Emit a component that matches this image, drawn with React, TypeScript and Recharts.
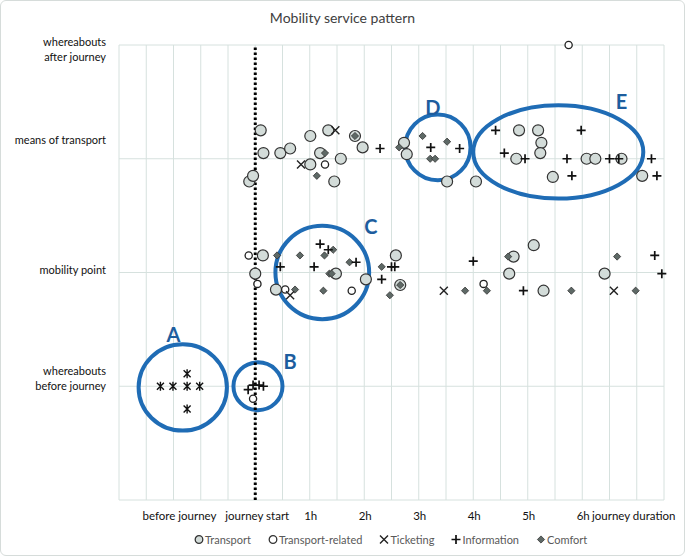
import React from "react";
import {
  CartesianGrid,
  ReferenceArea,
  ReferenceDot,
  ReferenceLine,
  Scatter,
  ScatterChart,
  XAxis,
  YAxis,
} from "recharts";

// x = hours relative to journey start, y = journey stage (1 before … 4 after)
const transport = [
  [0.1, 3.25], [0.15, 3.05], [0.46, 3.05], [0.64, 3.09], [1.01, 3.2], [1.34, 3.25],
  [1.83, 3.2], [1.97, 3.1], [2.73, 3.14], [2.78, 3.04], [1.19, 3.05], [1.01, 2.95],
  [1.57, 3.0], [1.45, 2.8], [-0.11, 2.8], [-0.04, 2.85], [3.52, 2.8], [4.05, 2.8],
  [4.84, 3.25], [5.19, 3.25], [5.25, 3.14], [5.23, 3.05], [4.79, 3.0], [5.46, 2.84],
  [6.08, 3.0], [6.24, 3.0], [6.72, 3.0], [7.1, 2.85],
  [0.14, 2.15], [0.0, 1.99], [0.38, 1.85], [1.48, 1.99], [2.03, 1.94], [2.58, 2.15],
  [2.66, 1.89], [4.74, 2.14], [4.66, 1.99], [5.11, 2.24], [5.29, 1.84], [6.41, 1.99],
];
const transportRelated = [
  [1.28, 2.95], [-0.12, 2.15], [0.04, 1.9], [0.55, 1.85], [1.77, 1.84], [4.19, 1.9],
  [-0.04, 0.89], [5.75, 4.0],
];
const ticketing = [
  [1.47, 3.25], [0.84, 2.95], [0.64, 1.8], [3.46, 1.84], [6.58, 1.84],
];
const information = [
  [2.29, 3.09], [3.22, 3.1], [3.75, 3.09], [4.41, 3.25], [4.57, 3.05], [4.95, 3.0],
  [5.72, 3.0], [5.81, 2.85], [5.98, 3.25], [6.5, 3.0], [6.67, 3.0], [7.27, 3.0], [7.37, 2.85],
  [0.46, 2.05], [1.08, 2.05], [1.19, 2.25], [1.34, 2.2], [1.85, 2.09], [2.32, 1.94],
  [2.5, 2.05], [2.56, 2.05], [4.0, 2.1], [4.92, 1.84], [7.33, 2.15], [7.46, 1.99],
  [-0.13, 0.97], [-0.04, 1.01], [0.07, 1.01], [0.15, 1.0],
];
const comfort = [
  [1.83, 3.2], [1.28, 3.05], [1.13, 2.85], [2.64, 3.1], [3.07, 3.2], [3.52, 3.15],
  [3.21, 3.0], [3.3, 3.0],
  [0.4, 2.15], [0.73, 1.85], [0.82, 2.15], [1.27, 2.15], [1.43, 2.2], [1.36, 1.99],
  [1.4, 1.99], [1.25, 1.84], [1.73, 2.09], [2.32, 2.05], [2.66, 1.89], [2.47, 1.8],
  [3.85, 1.84], [4.25, 1.84], [4.64, 2.14], [5.8, 1.84], [6.64, 2.14], [6.98, 1.84],
];
const beforeJourney = [
  [-1.74, 1.0], [-1.51, 1.0], [-1.25, 1.0], [-1.02, 1.0], [-1.25, 1.11], [-1.25, 0.8],
];

// highlighted groups: centre, half-extent (data units), letter position
const groups = [
  { name: "A", cx: -1.33, cy: 0.99, rx: 0.81, ry: 0.38, lx: -1.5, ly: 1.45 },
  { name: "B", cx: 0.05, cy: 1.0, rx: 0.45, ry: 0.21, lx: 0.64, ly: 1.21 },
  { name: "C", cx: 1.23, cy: 2.0, rx: 0.86, ry: 0.41, lx: 2.12, ly: 2.4 },
  { name: "D", cx: 3.35, cy: 3.1, rx: 0.6, ry: 0.29, lx: 3.26, ly: 3.45 },
  { name: "E", cx: 5.56, cy: 3.06, rx: 1.56, ry: 0.41, lx: 6.72, ly: 3.5 },
];

const gridTicks = [
  -2.5, -2, -1.5, -1, -0.5, 0, 0.5, 1, 1.5, 2, 2.5, 3, 3.5, 4, 4.5, 5, 5.5, 6, 6.5, 7, 7.5,
];
const timeLabels: [number, string][] = [
  [-1.5, "before journey"], [0, "journey start"], [1, "1h"], [2, "2h"], [3, "3h"],
  [4, "4h"], [5, "5h"], [6, "6h"], [7, "journey duration"],
];
const stageTicks = [0, 1, 2, 3, 4];
const stageLabels: [number, string[]][] = [
  [1, ["whereabouts", "before journey"]],
  [2, ["mobility point"]],
  [3, ["means of transport"]],
  [4, ["whereabouts", "after journey"]],
];

const toPoints = (arr: number[][]) => arr.map(([x, y]) => ({ x, y }));
const FONT = "Lato, 'Open Sans', sans-serif";
const BLUE = "#1f6cb5";

const TransportDot = ({ cx, cy }: any) => (
  <circle cx={cx} cy={cy} r={5.5} fill="#d3dcd9" stroke="#333" strokeWidth={1.2} />
);
const RelatedDot = ({ cx, cy }: any) => (
  <circle cx={cx} cy={cy} r={3.6} fill="#fff" stroke="#222" strokeWidth={1.3} />
);
const TicketDot = ({ cx, cy }: any) => (
  <path d={`M${cx - 4},${cy - 4}L${cx + 4},${cy + 4}M${cx - 4},${cy + 4}L${cx + 4},${cy - 4}`} stroke="#222" strokeWidth={1.4} />
);
const InfoDot = ({ cx, cy }: any) => (
  <path d={`M${cx - 4.5},${cy}L${cx + 4.5},${cy}M${cx},${cy - 4.5}L${cx},${cy + 4.5}`} stroke="#111" strokeWidth={1.7} />
);
const ComfortDot = ({ cx, cy }: any) => (
  <path d={`M${cx},${cy - 3.6}L${cx + 3.6},${cy}L${cx},${cy + 3.6}L${cx - 3.6},${cy}Z`} fill="#5e6966" stroke="#333" strokeWidth={0.8} />
);
const StarDot = ({ cx, cy }: any) => (
  <path
    d={`M${cx - 3.5},${cy - 3.5}L${cx + 3.5},${cy + 3.5}M${cx - 3.5},${cy + 3.5}L${cx + 3.5},${cy - 3.5}M${cx},${cy - 4.5}L${cx},${cy + 4.5}`}
    stroke="#111"
    strokeWidth={1.4}
  />
);

const TimeTick = ({ x, y, payload }: any) => {
  const hit = timeLabels.find(([v]) => v === payload.value);
  if (!hit) return null;
  const shift = hit[0] === -1.5 ? 6 : hit[0] === 7 ? -3 : hit[0] === 0 ? 2 : 1;
  return (
    <text x={x + shift} y={y + 18} textAnchor="middle" fontSize={11.5} fill="#111" fontFamily={FONT}>
      {hit[1]}
    </text>
  );
};

const StageTick = ({ x, y, payload }: any) => {
  const hit = stageLabels.find(([v]) => v === payload.value);
  if (!hit) return null;
  const lines = hit[1];
  const start = hit[0] === 4 ? -3 : hit[0] === 3 ? -19 : hit[0] === 2 ? -3 : -15;
  return (
    <text textAnchor="end" fontSize={11} fill="#111" fontFamily={FONT}>
      {lines.map((l, i) => (
        <tspan key={l} x={x - 11} y={y + start + i * 14.5 + 4}>
          {l}
        </tspan>
      ))}
    </text>
  );
};

const legendItems = [
  { name: "Transport", Icon: TransportDot },
  { name: "Transport-related", Icon: RelatedDot },
  { name: "Ticketing", Icon: TicketDot },
  { name: "Information", Icon: InfoDot },
  { name: "Comfort", Icon: ComfortDot },
];

export default function App() {
  return (
    <div
      style={{
        position: "absolute",
        left: 0,
        top: 0,
        width: 683,
        height: 554,
        border: "1px solid #d6dcda",
        borderRadius: 6,
        background: "#fff",
        fontFamily: FONT,
      }}
    >
      <div
        style={{
          position: "absolute",
          top: 8,
          width: "100%",
          textAlign: "center",
          fontSize: 14,
          color: "#404040",
        }}
      >
        Mobility service pattern
      </div>
      <div style={{ position: "absolute", left: -1, top: -1 }}>
        <ScatterChart width={685} height={556} margin={{ top: 45, right: 21, bottom: 0, left: 0 }}>
          <CartesianGrid stroke="#d6e1de" strokeWidth={1} />
          <XAxis
            type="number"
            dataKey="x"
            domain={[-2.5, 7.5]}
            ticks={gridTicks}
            interval={0}
            height={56}
            axisLine={false}
            tickLine={false}
            tickSize={0}
            tick={<TimeTick />}
          />
          <YAxis
            type="number"
            dataKey="y"
            domain={[0, 4]}
            ticks={stageTicks}
            interval={0}
            width={119}
            axisLine={false}
            tickLine={false}
            tickSize={0}
            tick={<StageTick />}
          />
          <ReferenceLine x={0} stroke="#000" strokeWidth={3} strokeDasharray="2.5 2.5" />
          <Scatter name="Transport" data={toPoints(transport)} shape={TransportDot} isAnimationActive={false} />
          <Scatter name="Transport-related" data={toPoints(transportRelated)} shape={RelatedDot} isAnimationActive={false} />
          <Scatter name="Comfort" data={toPoints(comfort)} shape={ComfortDot} isAnimationActive={false} />
          <Scatter name="Ticketing" data={toPoints(ticketing)} shape={TicketDot} isAnimationActive={false} />
          <Scatter name="Information" data={toPoints(information)} shape={InfoDot} isAnimationActive={false} />
          <Scatter name="Before journey" data={toPoints(beforeJourney)} shape={StarDot} isAnimationActive={false} legendType="none" />
          {groups.map((g) => (
            <ReferenceArea
              key={g.name}
              x1={g.cx - g.rx}
              x2={g.cx + g.rx}
              y1={g.cy - g.ry}
              y2={g.cy + g.ry}
              ifOverflow="visible"
              shape={(p: any) => (
                <ellipse
                  cx={p.x + p.width / 2}
                  cy={p.y + p.height / 2}
                  rx={Math.abs(p.width) / 2}
                  ry={Math.abs(p.height) / 2}
                  fill="none"
                  stroke={BLUE}
                  strokeWidth={4}
                />
              )}
            />
          ))}
          {groups.map((g) => (
            <ReferenceDot
              key={"l" + g.name}
              x={g.lx}
              y={g.ly}
              ifOverflow="visible"
              shape={(p: any) => (
                <text
                  x={p.cx}
                  y={p.cy + 7}
                  textAnchor="middle"
                  fontSize={20}
                  fontWeight={700}
                  fill="#1d5d9e"
                  fontFamily={FONT}
                >
                  {g.name}
                </text>
              )}
            />
          ))}
        </ScatterChart>
      </div>
      <div
        style={{
          position: "absolute",
          left: 193,
          top: 532,
          display: "flex",
          alignItems: "center",
          fontSize: 11,
          color: "#595959",
        }}
      >
        {legendItems.map(({ name, Icon }) => (
          <div key={name} style={{ display: "flex", alignItems: "center", marginRight: 17 }}>
            <svg width={10} height={11} style={{ marginRight: 1 }}>
              {name === "Transport" ? (
                <circle cx={5} cy={5.5} r={3.8} fill="#d3dcd9" stroke="#333" strokeWidth={1.3} />
              ) : name === "Transport-related" ? (
                <circle cx={5} cy={5.5} r={3.8} fill="#fff" stroke="#333" strokeWidth={1.3} />
              ) : (
                <Icon cx={5} cy={5.5} />
              )}
            </svg>
            <span>{name}</span>
          </div>
        ))}
      </div>
    </div>
  );
}
